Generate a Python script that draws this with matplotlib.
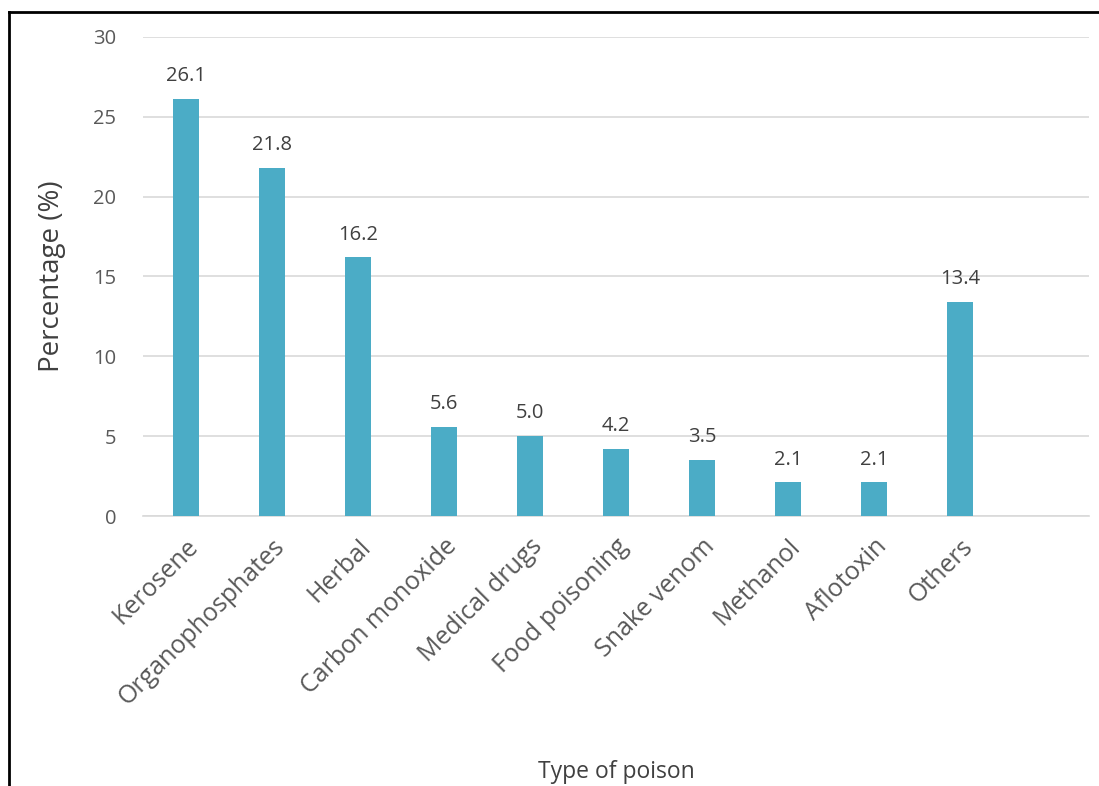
import matplotlib.pyplot as plt
from matplotlib.lines import Line2D
import numpy as np

# data
categories = ['Kerosene', 'Organophosphates', 'Herbal', 'Carbon monoxide',
              'Medical drugs', 'Food poisoning', 'Snake venom', 'Methanol',
              'Aflotoxin', 'Others']
values = [26.1, 21.8, 16.2, 5.6, 5.0, 4.2, 3.5, 2.1, 2.1, 13.4]

plt.rcParams['font.family'] = ['Open Sans', 'DejaVu Sans']

fig = plt.figure(figsize=(10.99, 7.86), dpi=100)
ax = fig.add_axes([0.130, 0.3435, 0.861, 0.6095])

x = np.arange(len(categories))
ax.bar(x, values, width=0.3, color='#4BACC6', zorder=3)

for xi, v in zip(x, values):
    ax.text(xi, v + 0.8, "%.1f" % v, ha='center', va='bottom',
            fontsize=14.5, color='#404040')

ax.set_xlim(-0.5, len(categories) + 0.5)
ax.set_ylim(0, 30)
ax.set_yticks(range(0, 31, 5))
ax.yaxis.grid(True, color='#D9D9D9', linewidth=1.2, zorder=0)
for s in ['top', 'right', 'left']:
    ax.spines[s].set_visible(False)
ax.spines['bottom'].set_color('#D9D9D9')
ax.spines['bottom'].set_linewidth(1.2)
ax.tick_params(axis='both', length=0)
ax.tick_params(axis='y', labelsize=14.5, labelcolor='#595959', pad=19)

ax.set_xticks(x)
ax.set_xticklabels(categories, rotation=45, ha='right', va='top',
                   rotation_mode='anchor', fontsize=18, color='#595959')
ax.tick_params(axis='x', pad=13)

ax.set_ylabel('Percentage (%)', fontsize=20, color='#404040', labelpad=20)
fig.text(0.561, 0.002, 'Type of poison', ha='center', va='bottom',
         fontsize=16.5, color='#404040')

# frame around the picture (left and top edges visible)
fig.add_artist(Line2D([0.0085, 0.0085], [0, 0.985], color='black', linewidth=2))
fig.add_artist(Line2D([0.0085, 1.0], [0.985, 0.985], color='black', linewidth=2))

plt.savefig('out.png')
